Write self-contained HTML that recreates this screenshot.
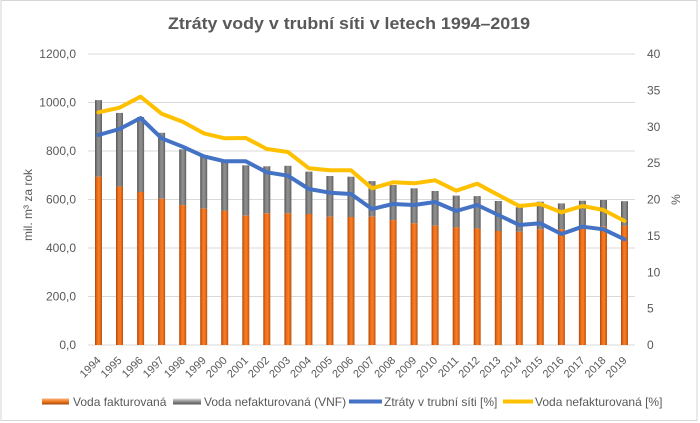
<!DOCTYPE html>
<html><head><meta charset="utf-8"><style>
html,body{margin:0;padding:0;background:#fff;}
svg{display:block;font-family:"Liberation Sans",sans-serif;}
</style></head><body>
<svg width="700" height="423" viewBox="0 0 700 423" xmlns="http://www.w3.org/2000/svg">
<defs>
<linearGradient id="go" x1="0" x2="1" y1="0" y2="0">
<stop offset="0" stop-color="#a9470a"/><stop offset="0.3" stop-color="#ee6f1c"/><stop offset="0.6" stop-color="#fb7d23"/><stop offset="1" stop-color="#b9520f"/>
</linearGradient>
<linearGradient id="gg" x1="0" x2="1" y1="0" y2="0">
<stop offset="0" stop-color="#555"/><stop offset="0.4" stop-color="#8e8e8e"/><stop offset="0.65" stop-color="#8a8a8a"/><stop offset="1" stop-color="#5e5e5e"/>
</linearGradient>
<linearGradient id="lo" x1="0" x2="0" y1="0" y2="1">
<stop offset="0" stop-color="#fbb27a"/><stop offset="0.5" stop-color="#ef7a22"/><stop offset="1" stop-color="#a9470a"/>
</linearGradient>
<linearGradient id="lg" x1="0" x2="0" y1="0" y2="1">
<stop offset="0" stop-color="#e0e0e0"/><stop offset="0.5" stop-color="#8e8e8e"/><stop offset="1" stop-color="#555"/>
</linearGradient>
</defs>
<rect x="1" y="0.5" width="696" height="420" fill="#fff" stroke="#d6d6d6" stroke-width="1"/>
<text x="349" y="29" text-anchor="middle" font-size="16.5" font-weight="bold" fill="#595959" textLength="362" lengthAdjust="spacingAndGlyphs">Ztráty vody v trubní síti v letech 1994–2019</text>
<g stroke="#d9d9d9" stroke-width="1">
<line x1="88" x2="635" y1="54" y2="54"/>
<line x1="88" x2="635" y1="102.5" y2="102.5"/>
<line x1="88" x2="635" y1="151" y2="151"/>
<line x1="88" x2="635" y1="199.5" y2="199.5"/>
<line x1="88" x2="635" y1="248" y2="248"/>
<line x1="88" x2="635" y1="296.5" y2="296.5"/>
<line x1="88" x2="635" y1="345" y2="345"/>
</g>
<g font-size="12" fill="#595959" text-anchor="end">
<text x="76" y="58">1200,0</text>
<text x="76" y="106.5">1000,0</text>
<text x="76" y="155">800,0</text>
<text x="76" y="203.5">600,0</text>
<text x="76" y="252">400,0</text>
<text x="76" y="300.5">200,0</text>
<text x="76" y="349">0,0</text>
</g>
<g font-size="12" fill="#595959">
<text x="647" y="58">40</text>
<text x="647" y="94.4">35</text>
<text x="647" y="130.8">30</text>
<text x="647" y="167.1">25</text>
<text x="647" y="203.5">20</text>
<text x="647" y="239.9">15</text>
<text x="647" y="276.3">10</text>
<text x="647" y="312.6">5</text>
<text x="647" y="349">0</text>
</g>
<text transform="translate(32,205) rotate(-90)" text-anchor="middle" font-size="12" fill="#595959">mil. m³ za rok</text>
<text transform="translate(680,199.5) rotate(-90)" text-anchor="middle" font-size="12" fill="#595959">%</text>
<g fill="url(#gg)">
<rect x="95" y="100.1" width="7" height="76.6"/>
<rect x="116" y="112.9" width="7" height="73.7"/>
<rect x="137.1" y="117" width="7" height="75"/>
<rect x="158.1" y="132.8" width="7" height="66"/>
<rect x="179.2" y="149.3" width="7" height="55.8"/>
<rect x="200.2" y="155.1" width="7" height="53.6"/>
<rect x="221.2" y="160" width="7" height="50.9"/>
<rect x="242.3" y="165.3" width="7" height="50.4"/>
<rect x="263.3" y="166.3" width="7" height="47"/>
<rect x="284.4" y="165.8" width="7" height="47.5"/>
<rect x="305.4" y="171.6" width="7" height="42.4"/>
<rect x="326.4" y="176" width="7" height="40.7"/>
<rect x="347.5" y="176.7" width="7" height="40.3"/>
<rect x="368.5" y="181.1" width="7" height="35.6"/>
<rect x="389.6" y="185" width="7" height="35.1"/>
<rect x="410.6" y="188.3" width="7" height="35"/>
<rect x="431.6" y="191" width="7" height="34.7"/>
<rect x="452.7" y="195.6" width="7" height="31.8"/>
<rect x="473.7" y="196.1" width="7" height="32.5"/>
<rect x="494.8" y="201" width="7" height="30"/>
<rect x="515.8" y="207.3" width="7" height="24.5"/>
<rect x="536.8" y="201.7" width="7" height="27.6"/>
<rect x="557.9" y="203.4" width="7" height="25.9"/>
<rect x="578.9" y="200.7" width="7" height="27.9"/>
<rect x="600" y="200" width="7" height="26.7"/>
<rect x="621" y="201.2" width="7" height="24.7"/>
</g>
<g fill="url(#go)">
<rect x="95" y="176.7" width="7" height="168.3"/>
<rect x="116" y="186.6" width="7" height="158.4"/>
<rect x="137.1" y="192" width="7" height="153"/>
<rect x="158.1" y="198.8" width="7" height="146.2"/>
<rect x="179.2" y="205.1" width="7" height="139.9"/>
<rect x="200.2" y="208.7" width="7" height="136.3"/>
<rect x="221.2" y="210.9" width="7" height="134.1"/>
<rect x="242.3" y="215.7" width="7" height="129.3"/>
<rect x="263.3" y="213.3" width="7" height="131.7"/>
<rect x="284.4" y="213.3" width="7" height="131.7"/>
<rect x="305.4" y="214" width="7" height="131"/>
<rect x="326.4" y="216.7" width="7" height="128.3"/>
<rect x="347.5" y="217" width="7" height="128"/>
<rect x="368.5" y="216.7" width="7" height="128.3"/>
<rect x="389.6" y="220.1" width="7" height="124.9"/>
<rect x="410.6" y="223.3" width="7" height="121.7"/>
<rect x="431.6" y="225.7" width="7" height="119.3"/>
<rect x="452.7" y="227.4" width="7" height="117.6"/>
<rect x="473.7" y="228.6" width="7" height="116.4"/>
<rect x="494.8" y="231" width="7" height="114"/>
<rect x="515.8" y="231.8" width="7" height="113.2"/>
<rect x="536.8" y="229.3" width="7" height="115.7"/>
<rect x="557.9" y="229.3" width="7" height="115.7"/>
<rect x="578.9" y="228.6" width="7" height="116.4"/>
<rect x="600" y="226.7" width="7" height="118.3"/>
<rect x="621" y="225.9" width="7" height="119.1"/>
</g>
<polyline fill="none" stroke="#4472c4" stroke-width="4" stroke-linejoin="round" stroke-linecap="round" points="98.5,135 119.5,129 140.6,118 161.6,138.3 182.7,146.7 203.7,156.3 224.7,161.3 245.8,161.3 266.8,172.3 287.9,175.7 308.9,189 329.9,192.7 351,194 372,209 393.1,204 414.1,205 435.1,202 456.2,211 477.2,205 498.3,215 519.3,225 540.3,223.3 561.4,234 582.4,226.7 603.5,229.3 624.5,239.3"/>
<polyline fill="none" stroke="#ffc000" stroke-width="4" stroke-linejoin="round" stroke-linecap="round" points="98.5,112.3 119.5,107.7 140.6,96.7 161.6,113.7 182.7,121.7 203.7,133.3 224.7,138.3 245.8,138 266.8,149 287.9,152 308.9,168.3 329.9,170.3 351,170.3 372,188.3 393.1,182.3 414.1,183.3 435.1,180.3 456.2,190.7 477.2,183.7 498.3,195 519.3,206 540.3,204 561.4,212.3 582.4,206 603.5,210 624.5,221"/>
<g font-size="11" fill="#595959" text-anchor="end">
<text transform="translate(101.5,361) rotate(-45)">1994</text>
<text transform="translate(122.5,361) rotate(-45)">1995</text>
<text transform="translate(143.6,361) rotate(-45)">1996</text>
<text transform="translate(164.6,361) rotate(-45)">1997</text>
<text transform="translate(185.7,361) rotate(-45)">1998</text>
<text transform="translate(206.7,361) rotate(-45)">1999</text>
<text transform="translate(227.7,361) rotate(-45)">2000</text>
<text transform="translate(248.8,361) rotate(-45)">2001</text>
<text transform="translate(269.8,361) rotate(-45)">2002</text>
<text transform="translate(290.9,361) rotate(-45)">2003</text>
<text transform="translate(311.9,361) rotate(-45)">2004</text>
<text transform="translate(332.9,361) rotate(-45)">2005</text>
<text transform="translate(354,361) rotate(-45)">2006</text>
<text transform="translate(375,361) rotate(-45)">2007</text>
<text transform="translate(396.1,361) rotate(-45)">2008</text>
<text transform="translate(417.1,361) rotate(-45)">2009</text>
<text transform="translate(438.1,361) rotate(-45)">2010</text>
<text transform="translate(459.2,361) rotate(-45)">2011</text>
<text transform="translate(480.2,361) rotate(-45)">2012</text>
<text transform="translate(501.3,361) rotate(-45)">2013</text>
<text transform="translate(522.3,361) rotate(-45)">2014</text>
<text transform="translate(543.3,361) rotate(-45)">2015</text>
<text transform="translate(564.4,361) rotate(-45)">2016</text>
<text transform="translate(585.4,361) rotate(-45)">2017</text>
<text transform="translate(606.5,361) rotate(-45)">2018</text>
<text transform="translate(627.5,361) rotate(-45)">2019</text>
</g>
<rect x="42" y="398.5" width="27" height="6" fill="url(#lo)"/>
<rect x="173" y="398.5" width="28" height="6" fill="url(#lg)"/>
<line x1="349" x2="382" y1="401.5" y2="401.5" stroke="#4472c4" stroke-width="4"/>
<line x1="503" x2="533" y1="401.5" y2="401.5" stroke="#ffc000" stroke-width="4"/>
<g font-size="12" fill="#595959">
<text x="73" y="406">Voda fakturovaná</text>
<text x="204" y="406">Voda nefakturovaná (VNF)</text>
<text x="384" y="406">Ztráty v trubní síti [%]</text>
<text x="535" y="406">Voda nefakturovaná [%]</text>
</g>
</svg>
</body></html>
